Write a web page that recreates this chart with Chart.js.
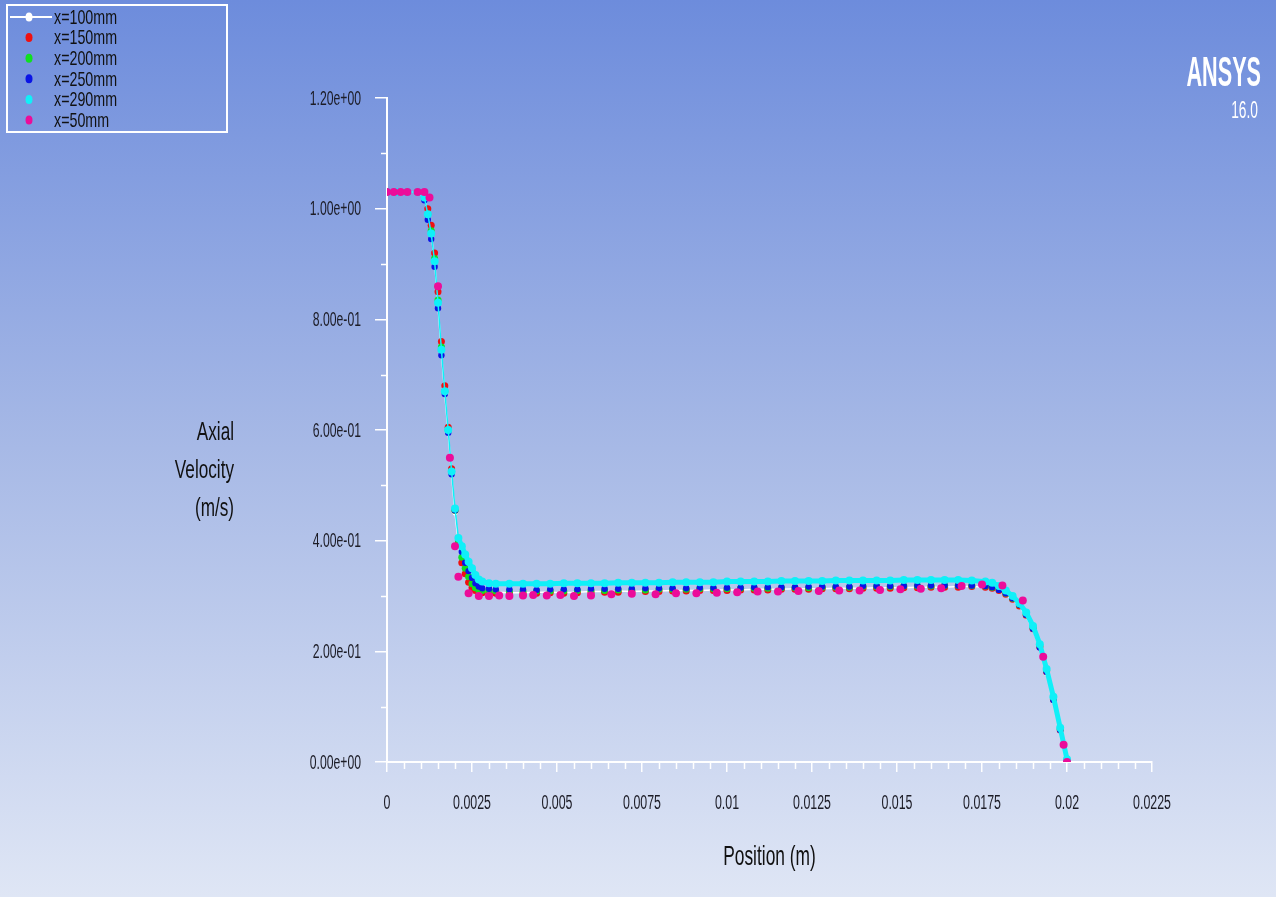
<!DOCTYPE html>
<html>
<head>
<meta charset="utf-8">
<title>Axial Velocity</title>
<script src="https://cdn.jsdelivr.net/npm/chart.js@4.4.1/dist/chart.umd.min.js"></script>
<style>
  html, body {
    margin: 0;
    padding: 0;
    overflow: hidden;
  }
  body {
    width: 1276px;
    height: 897px;
    background: linear-gradient(to bottom, #6d8cdc 0%, #a7b9e6 50%, #dfe6f5 100%);
  }
  #wrap {
    position: relative;
    width: 1276px;
    height: 897px;
  }
</style>
</head>
<body>
<div id="wrap"><canvas id="velChart"></canvas></div>
<script>
// positions (m) of the fine-mesh series
const positionFine = [0, 0.0003, 0.0006, 0.0009, 0.0011,
  0.0012, 0.0013, 0.0014, 0.0015, 0.0016, 0.0017, 0.0018, 0.0019, 0.002, 0.0021, 0.0022, 0.0023, 0.0024, 0.0025, 0.0026, 0.0027, 0.0028,
  0.003, 0.0032,
  0.0036, 0.004, 0.0044, 0.0048, 0.0052, 0.0056, 0.006, 0.0064, 0.0068, 0.0072,
  0.0076, 0.008, 0.0084, 0.0088, 0.0092, 0.0096, 0.01, 0.0104, 0.0108, 0.0112,
  0.0116, 0.012, 0.0124, 0.0128, 0.0132, 0.0136, 0.014, 0.0144, 0.0148, 0.0152,
  0.0156, 0.016, 0.0164, 0.0168, 0.0172,
  0.0176, 0.0178, 0.018, 0.0182, 0.0184, 0.0186, 0.0188, 0.019, 0.0192, 0.0194, 0.0196, 0.0198, 0.02];

// positions (m) of the x=50mm series (coarser)
const position50 = [0, 0.0002, 0.0004, 0.0006, 0.0009, 0.0011, 0.00125, 0.0015, 0.00185, 0.002, 0.0021, 0.0024, 0.0027,
  0.003, 0.0033, 0.0036, 0.004, 0.0043, 0.0047, 0.0051, 0.0055, 0.006, 0.0066, 0.0072, 0.0079, 0.0085, 0.0091, 0.0097,
  0.0103, 0.0109, 0.0115, 0.0121, 0.0127, 0.0133, 0.0139, 0.0145, 0.0151, 0.0157, 0.0163, 0.0169, 0.0175, 0.0181,
  0.0187, 0.0193, 0.0199, 0.02];

// axial velocity (m/s)
const vel100 = [1.03, 1.03, 1.03, 1.03, 1.02,
  0.99, 0.955, 0.905, 0.825, 0.74, 0.665, 0.595, 0.52, 0.45, 0.395, 0.365, 0.345, 0.33, 0.32, 0.313, 0.309, 0.308,
  0.307, 0.307,
  0.306, 0.306, 0.307, 0.307, 0.306, 0.307, 0.308, 0.308, 0.309, 0.308,
  0.309, 0.309, 0.31, 0.31, 0.31, 0.311, 0.311, 0.311, 0.312, 0.312,
  0.312, 0.313, 0.313, 0.313, 0.314, 0.314, 0.314, 0.315, 0.315, 0.315,
  0.316, 0.316, 0.316, 0.317, 0.317,
  0.316, 0.314, 0.309, 0.302, 0.293, 0.281, 0.263, 0.239, 0.205, 0.16, 0.11, 0.056, 0.0];

const vel150 = [1.03, 1.03, 1.03, 1.03, 1.025,
  1.0, 0.97, 0.92, 0.85, 0.76, 0.68, 0.605, 0.53, 0.455, 0.395, 0.36, 0.34, 0.325, 0.315, 0.31, 0.307, 0.306,
  0.305, 0.305,
  0.305, 0.304, 0.305, 0.306, 0.305, 0.306, 0.306, 0.307, 0.307, 0.308,
  0.308, 0.308, 0.309, 0.309, 0.31, 0.31, 0.31, 0.311, 0.311, 0.311,
  0.312, 0.312, 0.312, 0.313, 0.313, 0.313, 0.314, 0.314, 0.314, 0.315,
  0.315, 0.316, 0.316, 0.316, 0.317,
  0.316, 0.314, 0.31, 0.303, 0.294, 0.282, 0.265, 0.241, 0.208, 0.163, 0.113, 0.058, 0.002];

const vel200 = [1.03, 1.03, 1.03, 1.03, 1.02,
  0.99, 0.96, 0.91, 0.835, 0.75, 0.67, 0.6, 0.525, 0.455, 0.4, 0.37, 0.35, 0.335, 0.322, 0.315, 0.311, 0.31,
  0.309, 0.309,
  0.308, 0.308, 0.309, 0.309, 0.309, 0.31, 0.31, 0.31, 0.311, 0.311,
  0.311, 0.312, 0.312, 0.312, 0.313, 0.313, 0.313, 0.314, 0.314, 0.314,
  0.315, 0.315, 0.315, 0.316, 0.316, 0.316, 0.317, 0.317, 0.317, 0.318,
  0.318, 0.318, 0.319, 0.319, 0.319,
  0.318, 0.316, 0.312, 0.305, 0.296, 0.284, 0.267, 0.243, 0.21, 0.166, 0.116, 0.06, 0.004];

const vel250 = [1.03, 1.03, 1.03, 1.03, 1.015,
  0.98, 0.945, 0.895, 0.82, 0.735, 0.665, 0.595, 0.52, 0.455, 0.405, 0.38, 0.36, 0.345, 0.333, 0.323, 0.317, 0.314,
  0.313, 0.312,
  0.312, 0.312, 0.311, 0.312, 0.312, 0.312, 0.313, 0.313, 0.313, 0.313,
  0.314, 0.314, 0.314, 0.314, 0.315, 0.315, 0.315, 0.315, 0.316, 0.316,
  0.316, 0.316, 0.317, 0.317, 0.317, 0.317, 0.318, 0.318, 0.318, 0.318,
  0.319, 0.319, 0.319, 0.319, 0.319,
  0.318, 0.316, 0.311, 0.305, 0.296, 0.284, 0.266, 0.241, 0.207, 0.163, 0.112, 0.058, 0.003];

const vel290 = [1.03, 1.03, 1.03, 1.03, 1.02,
  0.99, 0.955, 0.905, 0.83, 0.745, 0.67, 0.6, 0.525, 0.458, 0.405, 0.39, 0.375, 0.362, 0.35, 0.338, 0.33, 0.326,
  0.323, 0.322,
  0.322, 0.322, 0.322, 0.322, 0.323, 0.323, 0.323, 0.323, 0.324, 0.324,
  0.324, 0.324, 0.325, 0.325, 0.325, 0.325, 0.326, 0.326, 0.326, 0.326,
  0.327, 0.327, 0.327, 0.327, 0.328, 0.328, 0.328, 0.328, 0.328, 0.329,
  0.329, 0.329, 0.329, 0.329, 0.328,
  0.326, 0.324, 0.318, 0.31, 0.3, 0.287, 0.27, 0.246, 0.213, 0.168, 0.118, 0.062, 0.005];

const vel50 = [1.03, 1.03, 1.03, 1.03, 1.03, 1.03, 1.02, 0.86, 0.55, 0.39, 0.335, 0.305, 0.30,
  0.30, 0.301, 0.30, 0.301, 0.302, 0.301, 0.302, 0.30, 0.301, 0.303, 0.304, 0.303, 0.305, 0.305, 0.306,
  0.307, 0.308, 0.308, 0.309, 0.309, 0.31, 0.31, 0.311, 0.312, 0.313, 0.314, 0.318, 0.321, 0.319,
  0.292, 0.19, 0.031, 0.0];

const seriesLabels = ['x=100mm', 'x=150mm', 'x=200mm', 'x=250mm', 'x=290mm', 'x=50mm'];
const seriesColors = ['#ffffff', '#f01010', '#10e020', '#0a14e6', '#10f0f8', '#ec0c9a'];

const xTicks = [0, 0.0025, 0.005, 0.0075, 0.01, 0.0125, 0.015, 0.0175, 0.02, 0.0225];
const yTicks = [0, 0.2, 0.4, 0.6, 0.8, 1.0, 1.2];
const yMinorTicks = [0.1, 0.3, 0.5, 0.7, 0.9, 1.1];
const yTitleLines = ['Axial', 'Velocity', '(m/s)'];
const xTitle = 'Position (m)';

const SANS = "'Liberation Sans', Arial, sans-serif";

function pairs(xs, ys) {
  return xs.map((v, i) => ({ x: v, y: ys[i] }));
}

function sciLabel(v) {
  const parts = Number(v).toExponential(2).split('e');
  let exp = parseInt(parts[1], 10);
  const sign = exp < 0 ? '-' : '+';
  exp = Math.abs(exp);
  return parts[0] + 'e' + sign + (exp < 10 ? '0' + exp : exp);
}

function xLabel(v) {
  return String(Number(v.toFixed(4)));
}

// the ANSYS fonts are tall and very narrow: squeeze the text horizontally
function narrowText(ctx, text, x, y, font, sx, align, color) {
  ctx.save();
  ctx.translate(x, y);
  ctx.scale(sx, 1);
  ctx.font = font;
  ctx.textAlign = align;
  ctx.textBaseline = 'middle';
  ctx.fillStyle = color;
  ctx.fillText(text, 0, 0);
  ctx.restore();
}

// legend, minor ticks, tick labels, axis titles and logo
const overlayPlugin = {
  id: 'overlay',
  afterDraw(chart) {
    const ctx = chart.ctx;
    const area = chart.chartArea;
    const xs = chart.scales.x;
    const ys = chart.scales.y;
    ctx.save();

    // minor ticks
    ctx.strokeStyle = '#ffffff';
    ctx.lineWidth = 1.5;
    ctx.beginPath();
    yMinorTicks.forEach((v) => {
      const py = Math.round(ys.getPixelForValue(v)) + 0.5;
      ctx.moveTo(area.left - 6, py);
      ctx.lineTo(area.left, py);
    });
    for (let i = 1; i < 45; i++) {
      if (i % 5 === 0) continue;
      const px = Math.round(xs.getPixelForValue(i * 0.0005)) + 0.5;
      ctx.moveTo(px, area.bottom);
      ctx.lineTo(px, area.bottom + 7);
    }
    ctx.stroke();

    // tick labels
    yTicks.forEach((v) => {
      narrowText(ctx, sciLabel(v), 361, ys.getPixelForValue(v) + 1, '20px ' + SANS, 0.61, 'right', '#1c1c26');
    });
    xTicks.forEach((v) => {
      narrowText(ctx, xLabel(v), xs.getPixelForValue(v), 803, '20px ' + SANS, 0.62, 'center', '#1c1c26');
    });

    // axis titles
    yTitleLines.forEach((t, i) => {
      narrowText(ctx, t, 234, 433 + i * 38, '26px ' + SANS, 0.66, 'right', '#111111');
    });
    narrowText(ctx, xTitle, (area.left + area.right) / 2, 857, '28px ' + SANS, 0.62, 'center', '#111111');

    // ANSYS logo
    narrowText(ctx, 'ANSYS', 1261, 74, 'bold 42px ' + SANS, 0.515, 'right', '#ffffff');
    narrowText(ctx, '16.0', 1258, 112, '23px ' + SANS, 0.6, 'right', '#ffffff');

    // legend
    ctx.strokeStyle = '#ffffff';
    ctx.lineWidth = 2;
    ctx.strokeRect(7, 5, 220, 127);
    chart.data.datasets.forEach((ds, i) => {
      const cy = 17 + i * 20.6;
      if (ds.showLine && ds.borderColor === '#ffffff') {
        ctx.strokeStyle = ds.borderColor;
        ctx.lineWidth = 2;
        ctx.beginPath();
        ctx.moveTo(10, cy);
        ctx.lineTo(52, cy);
        ctx.stroke();
      }
      ctx.fillStyle = ds.pointBackgroundColor;
      ctx.beginPath();
      ctx.ellipse(29, cy, 3.5, 4.5, 0, 0, Math.PI * 2);
      ctx.fill();
      narrowText(ctx, ds.label, 54, cy + 1, '21px ' + SANS, 0.68, 'left', '#111111');
    });

    ctx.restore();
  }
};

const ctx = document.getElementById('velChart').getContext('2d');

new Chart(ctx, {
  type: 'scatter',
  data: {
    datasets: [
      {
        label: seriesLabels[0],
        data: pairs(positionFine, vel100),
        showLine: true,
        borderColor: seriesColors[0],
        borderWidth: 1.5,
        pointBackgroundColor: seriesColors[0],
        pointBorderWidth: 0,
        pointRadius: 2.5,
        order: 5,
      },
      {
        label: seriesLabels[1],
        data: pairs(positionFine, vel150),
        showLine: false,
        borderColor: seriesColors[1],
        pointBackgroundColor: seriesColors[1],
        pointBorderWidth: 0,
        pointRadius: 3.5,
        order: 4,
      },
      {
        label: seriesLabels[2],
        data: pairs(positionFine, vel200),
        showLine: false,
        borderColor: seriesColors[2],
        pointBackgroundColor: seriesColors[2],
        pointBorderWidth: 0,
        pointRadius: 3.5,
        order: 3,
      },
      {
        label: seriesLabels[3],
        data: pairs(positionFine, vel250),
        showLine: false,
        borderColor: seriesColors[3],
        pointBackgroundColor: seriesColors[3],
        pointBorderWidth: 0,
        pointRadius: 3.2,
        order: 2,
      },
      {
        label: seriesLabels[4],
        data: pairs(positionFine, vel290),
        showLine: true,
        borderColor: seriesColors[4],
        borderWidth: 5,
        // thin on the inlet drop, a thick band elsewhere (dense mesh points)
        segment: {
          borderWidth: (c) => (c.p0.parsed.x < 0.0021 ? 1.5 : 5),
        },
        pointBackgroundColor: seriesColors[4],
        pointBorderWidth: 0,
        pointRadius: 4,
        order: 1,
      },
      {
        label: seriesLabels[5],
        data: pairs(position50, vel50),
        showLine: false,
        borderColor: seriesColors[5],
        pointBackgroundColor: seriesColors[5],
        pointBorderWidth: 0,
        pointRadius: 4,
        order: 0,
      },
    ],
  },
  options: {
    responsive: true,
    maintainAspectRatio: false,
    animation: false,
    layout: {
      padding: { left: 0, right: 124, top: 98, bottom: 0 },
    },
    plugins: {
      legend: { display: false },
      tooltip: { enabled: false },
    },
    scales: {
      x: {
        type: 'linear',
        min: 0,
        max: 0.0225,
        afterFit: (scale) => { scale.height = 135; },
        afterBuildTicks: (scale) => { scale.ticks = xTicks.map((v) => ({ value: v })); },
        border: { display: true, color: '#ffffff', width: 2 },
        grid: {
          display: true,
          drawOnChartArea: false,
          drawTicks: true,
          tickLength: 10,
          color: '#ffffff',
          lineWidth: 1.5,
        },
        ticks: { display: false },
        title: { display: false },
      },
      y: {
        type: 'linear',
        min: 0,
        max: 1.2,
        afterFit: (scale) => { scale.width = 387; },
        afterBuildTicks: (scale) => { scale.ticks = yTicks.map((v) => ({ value: v })); },
        border: { display: true, color: '#ffffff', width: 2 },
        grid: {
          display: true,
          drawOnChartArea: false,
          drawTicks: true,
          tickLength: 12,
          color: '#ffffff',
          lineWidth: 1.5,
        },
        ticks: { display: false },
      },
    },
  },
  plugins: [overlayPlugin],
});
</script>
</body>
</html>
